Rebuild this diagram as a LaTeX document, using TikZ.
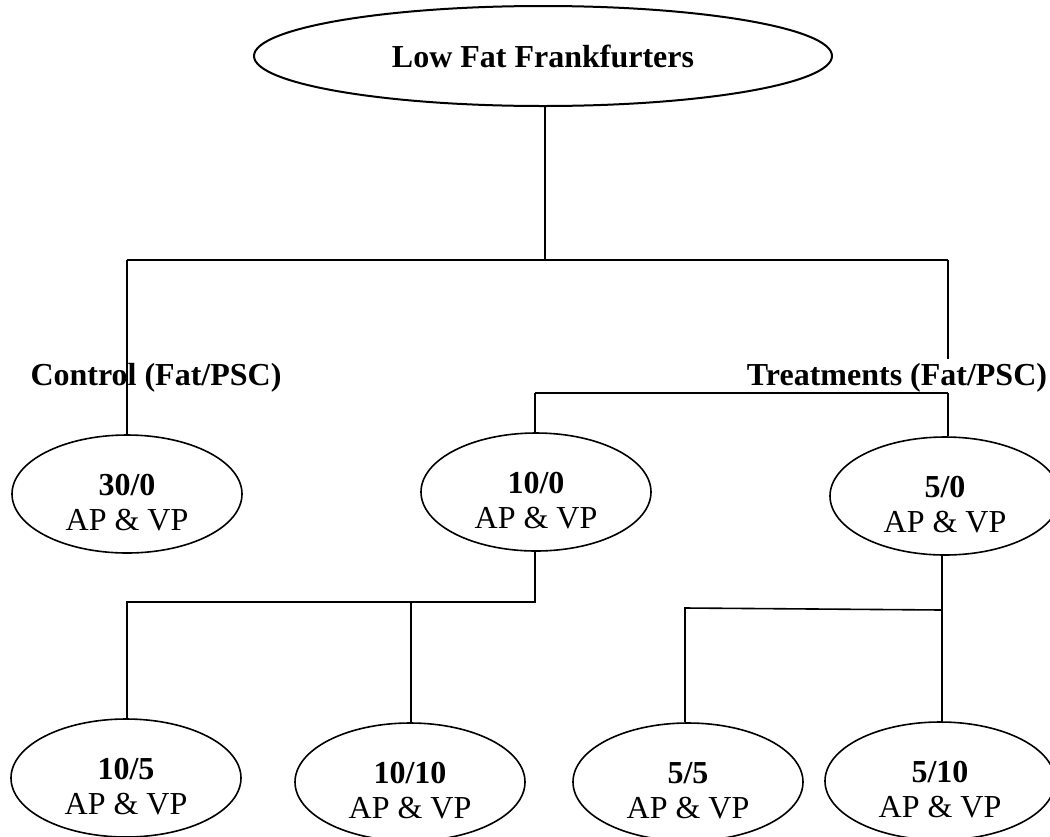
\documentclass[tikz,border=0pt]{standalone}
\usepackage{fontspec}
\setmainfont{Liberation Serif}
\usetikzlibrary{shapes.geometric}
\newcommand{\dropstrut}{\rule{0pt}{19pt}}
\begin{document}
\begin{tikzpicture}[x=0.5pt,y=-0.5pt,
  every node/.style={font=\fontsize{16}{17.5}\selectfont},
  oval/.style={draw,ellipse,line width=0.8pt,inner sep=0pt,minimum width=115pt,minimum height=59pt,align=center},
  lbl/.style={font=\fontsize{16}{17.5}\selectfont\bfseries,inner sep=0pt},
  link/.style={line width=0.8pt}]
\useasboundingbox (0,0) rectangle (1050,836);
% nodes
\node[draw,ellipse,line width=1pt,inner sep=0pt,minimum width=289pt,minimum height=50pt,font=\fontsize{16}{17.5}\selectfont\bfseries] (top) at (543,56) {Low Fat Frankfurters};
\node[lbl] (ctl) at (156,378) {Control (Fat/PSC)};
\node[lbl] (trt) at (897,378) {Treatments (Fat/PSC)};
\node[oval] (c30) at (127,494) {\dropstrut\textbf{30/0}\\AP \& VP};
\node[oval] (t10) at (536,492) {\dropstrut\textbf{10/0}\\AP \& VP};
\node[oval] (t5) at (945,496) {\dropstrut\textbf{5/0}\\AP \& VP};
\node[oval] (t105) at (126,778) {\dropstrut\textbf{10/5}\\AP \& VP};
\node[oval] (t1010) at (410,782) {\dropstrut\textbf{10/10}\\AP \& VP};
\node[oval] (t55) at (688,782) {\dropstrut\textbf{5/5}\\AP \& VP};
\node[oval] (t510) at (940,781) {\dropstrut\textbf{5/10}\\AP \& VP};
% junction coordinates
\coordinate (j0) at (545,260);
\coordinate (jL) at (127,260);
\coordinate (jR) at (948,260);
\coordinate (jRe) at (948,359);
\coordinate (k1) at (535,393);
\coordinate (k2) at (948,393);
\coordinate (m0) at (535,602);
\coordinate (mL) at (127,602);
\coordinate (mM) at (411,602);
\coordinate (n0) at (942,610);
\coordinate (nL) at (685,608);
% connectors
\draw[link] (top.south -| j0) -- (j0);
\draw[link] (jL) -- (jR);
\draw[link] (jR) -- (jRe);
\draw[link] (jL) -- (c30.north);
\draw[link] (k1) -- (k2);
\draw[link] (k1) -- (k1 |- t10.north);
\draw[link] (k2) -- (k2 |- t5.north);
\draw[link] (t10.south -| m0) -- (m0) -- (mL) -- (mL |- t105.north);
\draw[link] (mM) -- (mM |- t1010.north);
\draw[link] (t5.south -| n0) -- (n0) -- (nL) -- (nL |- t55.north);
\draw[link] (n0) -- (n0 |- t510.north);
\end{tikzpicture}
\end{document}
